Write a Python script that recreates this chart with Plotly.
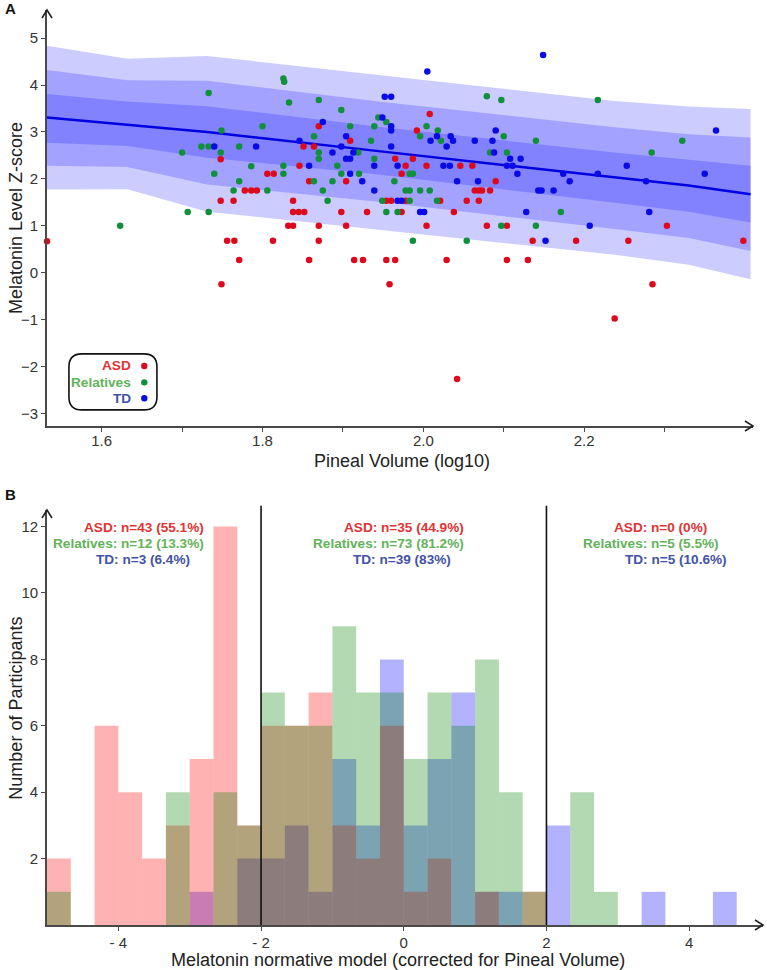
import plotly.graph_objects as go
import numpy as np

# ---------------- Panel A data ----------------
band_x = [1.532, 1.632, 1.731, 1.95, 2.238, 2.33, 2.407]
mean_y = [3.31, 3.16, 3.00, 2.58, 2.04, 1.86, 1.67]
upper3 = [4.84, 4.56, 4.62, 4.20, 3.66, 3.54, 3.49]
upper2 = [4.32, 4.10, 4.09, 3.64, 3.10, 2.95, 2.88]
upper1 = [3.81, 3.65, 3.55, 3.10, 2.56, 2.40, 2.28]
lower1 = [2.77, 2.70, 2.45, 2.08, 1.49, 1.30, 1.07]
lower2 = [2.28, 2.25, 1.88, 1.50, 0.93, 0.74, 0.46]
lower3 = [1.77, 1.78, 1.30, 0.90, 0.38, 0.17, -0.14]

asd_points = [
    (1.532, 0.67), (1.748, 2.42), (1.806, 2.11), (1.814, 2.11), (1.778, 1.75), (1.786, 1.75),
    (1.793, 1.75), (1.748, 1.53), (1.764, 1.53), (1.838, 1.53), (1.838, 1.29), (1.845, 1.29),
    (1.852, 1.29), (1.832, 1.00), (1.838, 1.00), (1.756, 0.68), (1.765, 0.68), (1.813, 0.68),
    (1.771, 0.27), (1.749, -0.25), (1.870, 3.12), (1.909, 2.81), (1.851, 2.69), (1.864, 2.69),
    (1.846, 2.28), (1.858, 1.95), (1.904, 1.95), (1.954, 1.53), (1.960, 1.53), (1.898, 1.29),
    (1.930, 1.29), (1.870, 1.00), (1.904, 1.00), (1.870, 0.68), (1.858, 0.27), (1.914, 0.27),
    (1.925, 0.27), (1.954, 0.27), (1.965, 0.27), (1.958, -0.25), (1.965, 2.43), (2.008, 3.38),
    (1.992, 3.03), (1.987, 2.43), (1.978, 2.28), (2.004, 2.28), (2.046, 2.28), (2.061, 2.28),
    (1.973, 2.11), (2.090, 1.95), (2.064, 1.75), (2.069, 1.75), (2.073, 1.75), (2.083, 1.75),
    (1.978, 1.53), (2.021, 1.53), (2.054, 1.53), (2.069, 1.53), (1.973, 1.29), (2.038, 1.29),
    (2.004, 1.00), (2.079, 1.00), (2.104, 1.00), (2.136, 0.68), (2.190, 0.68), (2.255, 0.68),
    (2.398, 0.68), (2.029, 0.27), (2.104, 0.27), (2.130, 0.27), (2.285, -0.25), (2.238, -0.98),
    (2.042, -2.27), (2.303, 1.00),
]
relatives_points = [
    (1.700, 2.56), (1.707, 1.29), (1.733, 1.29), (1.623, 1.00), (1.826, 4.14), (1.827, 4.07),
    (1.733, 3.83), (1.833, 3.63), (1.800, 3.12), (1.749, 3.03), (1.724, 2.69), (1.733, 2.69),
    (1.771, 2.69), (1.748, 2.56), (1.786, 2.27), (1.826, 2.28), (1.826, 2.11), (1.740, 2.11),
    (1.771, 1.95), (1.764, 1.75), (1.806, 1.75), (1.870, 3.68), (1.898, 3.47), (1.909, 3.12),
    (1.944, 3.31), (1.864, 2.91), (1.935, 2.81), (1.870, 2.56), (1.870, 2.43), (1.919, 2.56),
    (1.939, 2.43), (1.893, 2.28), (1.898, 2.11), (1.920, 2.11), (1.864, 1.95), (1.887, 1.95),
    (1.875, 1.75), (1.881, 1.53), (1.949, 1.53), (1.954, 1.29), (1.968, 1.29), (1.939, 3.12),
    (1.954, 3.21), (1.964, 1.95), (2.079, 3.76), (2.004, 3.12), (2.018, 3.03), (1.996, 2.91),
    (2.022, 2.81), (2.083, 2.56), (1.983, 2.11), (1.987, 2.11), (1.978, 1.75), (1.983, 1.75),
    (1.996, 1.75), (2.008, 1.75), (1.983, 1.53), (2.017, 1.53), (2.097, 1.00), (2.140, 1.00),
    (1.987, 0.68), (2.054, 0.68), (2.097, 3.68), (2.217, 3.68), (2.100, 2.91), (2.140, 2.81),
    (2.104, 2.56), (2.171, 1.29), (2.322, 2.81), (2.284, 2.56),
]
td_points = [
    (1.740, 2.69), (1.792, 2.69), (1.952, 3.75), (1.960, 3.75), (1.875, 3.21), (1.846, 2.81),
    (1.904, 2.91), (1.898, 2.69), (1.887, 2.56), (1.913, 2.56), (1.904, 2.43), (1.909, 2.43),
    (1.858, 2.28), (1.939, 2.28), (1.909, 2.11), (1.924, 1.95), (1.939, 1.75), (1.949, 3.31),
    (1.960, 3.12), (1.960, 3.03), (1.960, 2.69), (1.968, 2.28), (2.005, 4.29), (2.009, 2.81),
    (2.017, 2.91), (2.034, 2.91), (2.037, 2.81), (2.029, 2.69), (2.064, 2.81), (2.086, 2.81),
    (2.090, 3.03), (2.088, 2.56), (2.025, 2.28), (2.033, 2.28), (2.042, 1.95), (2.068, 1.95),
    (1.968, 1.53), (1.973, 1.53), (1.996, 1.29), (2.001, 1.29), (2.149, 4.64), (2.108, 2.43),
    (2.121, 2.43), (2.104, 2.28), (2.111, 2.28), (2.117, 2.11), (2.174, 2.11), (2.217, 2.11),
    (2.182, 1.95), (2.143, 1.75), (2.147, 1.75), (2.162, 1.75), (2.128, 1.29), (2.207, 1.00),
    (2.152, 0.68), (2.364, 3.03), (2.253, 2.28), (2.350, 2.11), (2.277, 1.95), (2.281, 1.29),
]
top_xticks = [1.6, 1.7, 1.8, 1.9, 2.0, 2.1, 2.2, 2.3]
top_xticklabels = ["1.6", "", "1.8", "", "2.0", "", "2.2", ""]
top_yticks = [-3, -2, -1, 0, 1, 2, 3, 4, 5]

# ---------------- Panel B data ----------------
bin_start, bin_width, n_bins = -5.0, 1 / 3, 30
asd_counts = [2, 0, 6, 4, 2, 3, 5, 12, 3, 6, 6, 7, 3, 2, 6, 1, 2, 0, 1, 0, 1, 0, 0, 0, 0, 0, 0, 0, 0, 0]
relatives_counts = [1, 0, 0, 0, 0, 4, 0, 4, 3, 7, 6, 6, 9, 7, 7, 5, 7, 6, 8, 4, 1, 0, 4, 1, 0, 0, 0, 0, 0, 0]
td_counts = [0, 0, 0, 0, 0, 0, 1, 0, 2, 2, 3, 1, 5, 3, 8, 3, 5, 7, 1, 1, 0, 3, 0, 0, 0, 1, 0, 0, 1, 0]
bottom_xticks = [-4, -2, 0, 2, 4]
bottom_xticklabels = ["- 4", "- 2", "0", "2", "4"]
bottom_yticks = [2, 4, 6, 8, 10, 12]
cutoffs = [-2, 2]
group_texts = [
    ["ASD: n=43 (55.1%)", "Relatives: n=12 (13.3%)", "TD: n=3 (6.4%)"],
    ["ASD: n=35 (44.9%)", "Relatives: n=73 (81.2%)", "TD: n=39 (83%)"],
    ["ASD: n=0 (0%)", "Relatives: n=5 (5.5%)", "TD: n=5 (10.6%)"],
]
group_text_x = [[-3.64, -3.86, -3.66], [0.0, -0.22, -0.02], [3.60, 3.46, 3.81]]
group_text_y = [11.97, 11.49, 11.0]

# ---------------- styles ----------------
FONT = "Arial, Liberation Sans, sans-serif"
AX = "#4a4a4a"
C_ASD, C_REL, C_TD = "#dd0a1e", "#10903a", "#0a0ae6"
T_ASD, T_REL, T_TD = "#e03434", "#62b359", "#4353a6"

fig = go.Figure()

# normative bands
for up, lo in [(upper3, lower3), (upper2, lower2), (upper1, lower1)]:
    fig.add_trace(go.Scatter(
        x=band_x + band_x[::-1], y=up + lo[::-1], fill="toself",
        fillcolor="rgba(0,0,255,0.2)", line=dict(width=0), mode="lines",
        hoverinfo="skip", xaxis="x", yaxis="y"))
fig.add_trace(go.Scatter(x=band_x, y=mean_y, mode="lines",
                         line=dict(color="#0000e0", width=2.5), xaxis="x", yaxis="y"))

for pts, col, name in [(asd_points, C_ASD, "ASD"), (relatives_points, C_REL, "Relatives"),
                       (td_points, C_TD, "TD")]:
    xs, ys = zip(*pts)
    fig.add_trace(go.Scatter(x=list(xs), y=list(ys), mode="markers", name=name,
                             marker=dict(color=col, size=6.5, line=dict(width=0)),
                             cliponaxis=False, xaxis="x", yaxis="y"))

# histograms
centers = bin_start + bin_width * (np.arange(n_bins) + 0.5)
for counts, rgba in [(td_counts, "rgba(0,0,255,0.3)"), (asd_counts, "rgba(255,0,0,0.3)"),
                     (relatives_counts, "rgba(0,128,0,0.3)")]:
    fig.add_trace(go.Bar(x=centers, y=counts, width=bin_width, marker=dict(color=rgba, line=dict(width=0)),
                         xaxis="x2", yaxis="y2"))

axis_common = dict(showline=True, linecolor=AX, linewidth=1.6, ticks="outside", ticklen=4,
                   tickcolor=AX, tickwidth=1.2, showgrid=False, zeroline=False,
                   tickfont=dict(size=15, color="#333", family=FONT))

fig.update_layout(
    width=767, height=970, margin=dict(l=47, r=4, t=10, b=45),
    paper_bgcolor="white", plot_bgcolor="white", showlegend=False, barmode="overlay",
    font=dict(family=FONT, color="#222"),
    xaxis=dict(domain=[0, 0.986], range=[1.532, 2.41], anchor="y", tickvals=top_xticks,
               ticktext=top_xticklabels, ticklabelstandoff=-4, **axis_common),
    yaxis=dict(domain=[0.5454, 1], range=[-3.27, 5.6], anchor="x", tickvals=top_yticks,
               **axis_common),
    xaxis2=dict(domain=[0, 1], range=[-5, 5.035], anchor="y2", tickvals=bottom_xticks,
                ticktext=bottom_xticklabels, ticklabelstandoff=-1, **axis_common),
    yaxis2=dict(domain=[0, 0.4536], range=[0, 12.5], anchor="x2", tickvals=bottom_yticks,
                **axis_common),
)

shapes = []
# axis arrow heads (chevrons)
arrow_specs = [(0.986, 0.5454, "M-8,5 L0,0 L-8,-5"), (0.0, 1.0, "M-5,-8 L0,0 L5,-8"),
               (1.0, 0.0, "M-8,5 L0,0 L-8,-5"), (0.0, 0.4536, "M-5,-8 L0,0 L5,-8")]
for xa, ya, p in arrow_specs:
    shapes.append(dict(type="path", xref="paper", yref="paper", xsizemode="pixel", ysizemode="pixel",
                       xanchor=xa, yanchor=ya, path=p, line=dict(color="#222", width=1.6)))
# cutoff lines
for c in cutoffs:
    shapes.append(dict(type="line", xref="x2", yref="y2 domain", x0=c, x1=c, y0=0, y1=1.01,
                       line=dict(color="#111", width=1.6)))
# legend box (rounded)
w, h, r = 44, 28, 13
box = (f"M{-w + r},{h} L{w - r},{h} Q{w},{h} {w},{h - r} L{w},{-h + r} Q{w},{-h} {w - r},{-h} "
       f"L{-w + r},{-h} Q{-w},{-h} {-w},{-h + r} L{-w},{h - r} Q{-w},{h} {-w + r},{h} Z")
shapes.append(dict(type="path", xref="x", yref="y", xsizemode="pixel", ysizemode="pixel",
                   xanchor=1.614, yanchor=-2.33, path=box, line=dict(color="#111", width=1.6)))
legend_rows = [("ASD", T_ASD, C_ASD, -1.99), ("Relatives", T_REL, C_REL, -2.34), ("TD", T_TD, C_TD, -2.68)]
annotations = []
for label, tcol, dcol, yy in legend_rows:
    shapes.append(dict(type="circle", xref="x", yref="y", xsizemode="pixel", ysizemode="pixel",
                       xanchor=1.653, yanchor=yy, x0=-3.2, x1=3.2, y0=-3.2, y1=3.2,
                       fillcolor=dcol, line=dict(width=0)))
    annotations.append(dict(x=1.639, y=yy, xref="x", yref="y", text=f"<b>{label}</b>",
                            showarrow=False, xanchor="right", yanchor="middle",
                            font=dict(size=13.6, color=tcol, family=FONT)))

for gi, block in enumerate(group_texts):
    for li, txt in enumerate(block):
        col = [T_ASD, T_REL, T_TD][li]
        annotations.append(dict(x=group_text_x[gi][li], y=group_text_y[li], xref="x2", yref="y2",
                                text=f"<b>{txt}</b>", showarrow=False, xanchor="center",
                                yanchor="middle", font=dict(size=13.6, color=col, family=FONT)))

# axis titles
titles = [
    ("Pineal Volume (log10)", 0.4958, 0.5071, 0, 18),
    ("Melatonin Level Z-score", -0.0433, 0.7727, -90, 18),
    ("Melatonin normative model (corrected for Pineal Volume)", 0.490, -0.0383, 0, 18),
    ("Number of Participants", -0.0426, 0.237, -90, 18),
]
for txt, xx, yy, ang, sz in titles:
    annotations.append(dict(x=xx, y=yy, xref="paper", yref="paper", text=txt, showarrow=False,
                            xanchor="center", yanchor="middle", textangle=ang,
                            font=dict(size=sz, color="#222", family=FONT)))

annotations.append(dict(x=-0.0615, y=1.0016, xref="paper", yref="paper", text="<b>A</b>",
                        showarrow=False, xanchor="left", yanchor="middle",
                        font=dict(size=15, color="#111", family=FONT)))
annotations.append(dict(x=-0.0615, y=0.471, xref="paper", yref="paper", text="<b>B</b>",
                        showarrow=False, xanchor="left", yanchor="middle",
                        font=dict(size=15, color="#111", family=FONT)))

fig.update_layout(shapes=shapes, annotations=annotations)
# remove the browser's default 8px body margin so the figure fills the window exactly
fig.write_html("out.html", config={"displayModeBar": False},
               post_script="document.body.style.margin='0';")
